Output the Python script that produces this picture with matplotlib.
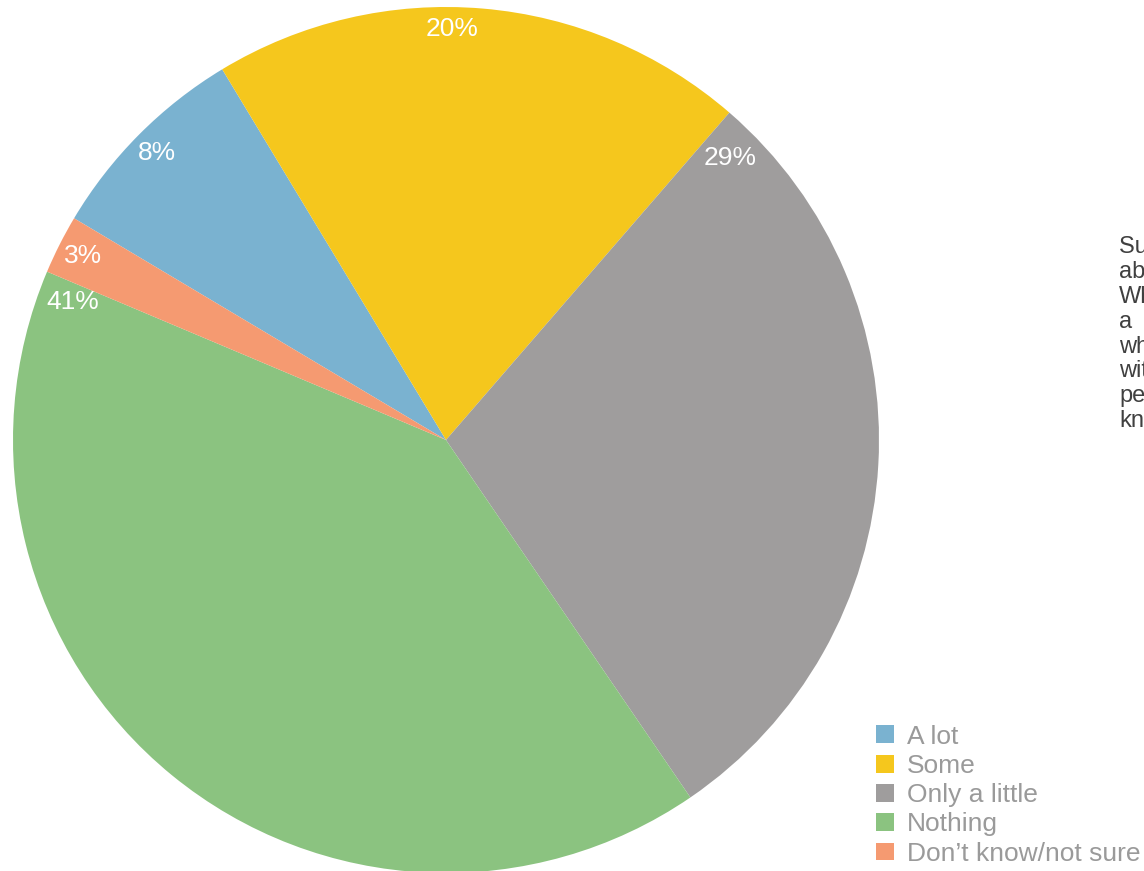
import numpy as np
import matplotlib
matplotlib.use("Agg")
import matplotlib.pyplot as plt
from matplotlib.patches import Patch

# data
categories = ["A lot", "Some", "Only a little", "Nothing", "Don\u2019t know/not sure"]
shares = [7.8, 20.0, 29.1, 40.9, 2.2]          # slice sizes as drawn
pct_labels = ["8%", "20%", "29%", "41%", "3%"]  # printed labels
colors = ["#7AB2D0", "#F5C71D", "#9F9D9D", "#8BC380", "#F59A71"]
note_lines = ["Survey question:", "about", "What", "a", "which", "with", "people", "know"]

sans = ["Liberation Sans", "DejaVu Sans"]

W, H = 1144, 871
fig = plt.figure(figsize=(W / 100, H / 100), dpi=100)

# pie axes: centre (446, 440) px, radius 433 px
cx, cy, R = 446, 440, 433
ax = fig.add_axes([(cx - R) / W, (H - cy - R) / H, 2 * R / W, 2 * R / H])
wedges, _ = ax.pie(shares, colors=colors, startangle=149.2, counterclock=False,
                   radius=1.0, wedgeprops=dict(linewidth=0))
ax.set_xlim(-1, 1)
ax.set_ylim(-1, 1)
ax.set_aspect("equal")
ax.axis("off")

# label placement: offset (deg) from wedge mid-angle, radius fraction
label_offset = [0, 4, 48, -71, 0]
label_r = [0.94, 0.95, 0.925, 0.92, 0.94]
for w, lab, off, r in zip(wedges, pct_labels, label_offset, label_r):
    ang = np.deg2rad((w.theta1 + w.theta2) / 2 + off)
    ax.text(r * np.cos(ang), r * np.sin(ang), lab, color="white", fontsize=19,
            family=sans, ha="center", va="center")

# legend in lower right
handles = [Patch(facecolor=c, edgecolor="none") for c in colors]
leg = fig.legend(handles, categories, loc="lower left", bbox_to_anchor=(871 / W, 0 / H),
                 frameon=False, prop=dict(family=sans, size=19),
                 handlelength=0.66, handleheight=0.66, handletextpad=0.5,
                 labelspacing=0.2, borderpad=0.2, borderaxespad=0.0)
for t in leg.get_texts():
    t.set_color("#9A9A9A")

# note on the right edge (runs off the canvas, as in the source)
fig.text(1119 / W, 1 - 236 / H, "\n".join(note_lines), fontsize=17,
         family=sans, color="#404040", ha="left", va="top", linespacing=1.17)

fig.savefig("out.png", dpi=100)
